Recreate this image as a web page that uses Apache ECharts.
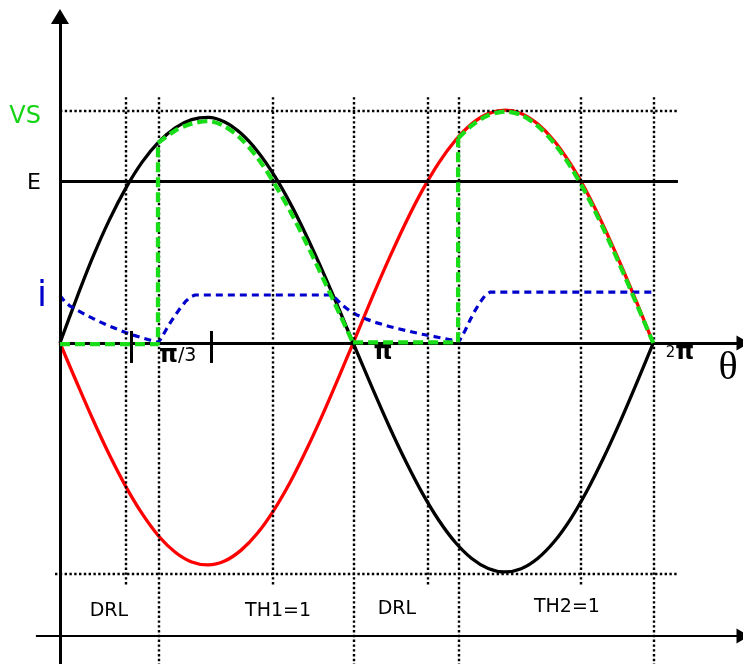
<!DOCTYPE html>
<html>
<head>
<meta charset="utf-8">
<script src="https://cdn.jsdelivr.net/npm/echarts@6/dist/echarts.min.js"></script>
<style>
  html, body { margin: 0; padding: 0; background: #fff; }
  #chart { width: 743px; height: 664px; }
</style>
</head>
<body>
<div id="chart"></div>
<script>
// Single-phase controlled rectifier charging a battery E.
// θ is in degrees, voltages and current in percent of the peak VS.

const vsLevel = 100;
const eLevel = 69.8;
const lowerLevel = -99.6;

// supply voltage v (black) and its opposite -v (red)
const supplyV = [
  [0, 0], [10, 19.1], [20, 37.1], [30, 53.1], [40, 66.8], [50, 78.1], [60, 86.7], [70, 92.8],
  [80, 96.3], [90, 97.3], [100, 95.3], [110, 90.3], [120, 82.6], [130, 72.4], [140, 60.0],
  [150, 45.7], [160, 30.1], [170, 13.6], [178, 0],
  [190, -20.0], [200, -36.1], [210, -51.1], [220, -64.7], [230, -76.4], [240, -85.9],
  [250, -92.9], [260, -97.2], [270, -98.7], [280, -97.3], [290, -92.9], [300, -85.7],
  [310, -75.9], [320, -63.7], [330, -49.6], [340, -34.1], [350, -17.5], [360.2, 0]
];
const supplyNegV = [
  [0, 0], [10, -16.7], [20, -33.0], [30, -48.2], [40, -61.9], [50, -73.7], [60, -83.3],
  [70, -90.2], [80, -94.4], [90, -95.7], [100, -94.0], [110, -89.3], [120, -81.9],
  [130, -71.9], [140, -59.7], [150, -45.5], [160, -30.0], [170, -13.5], [178, 0],
  [190, 20.4], [200, 36.7], [210, 52.0], [220, 65.8], [230, 77.7], [240, 87.3], [250, 94.5],
  [260, 98.9], [270.3, 100.4], [280, 99.0], [290, 94.5], [300, 87.2], [310, 77.2],
  [320, 64.9], [330, 50.5], [340, 34.6], [350, 17.8], [360.2, 0]
];

// output voltage (green): off while the diodes conduct, then following the supply
const outputOff1 = [[0, -0.5], [59.5, -0.5], [59.5, 86.2]];
const outputHump1 = [
  [59.5, 86.2], [70, 91.6], [80, 94.6], [90, 95.7], [100, 93.4], [110, 88.0], [120, 79.8],
  [130, 69.0], [140, 56.5], [150, 42.5], [160, 27.5], [170, 12.2], [178, 0]
];
const outputOff2 = [[178, 0.3], [241.7, 0.3], [241.7, 88.2]];
const outputHump2 = [
  [241.7, 88.2], [250, 93.8], [260, 98.2], [270.3, 99.8], [280, 98.3], [290, 93.6], [300, 86.2],
  [310, 76.0], [320, 63.6], [330, 49.2], [340, 33.5], [350, 17.0], [360.2, 0]
];

// load current i (blue)
const loadCurrent = [
  [0, 20.5], [3, 17.8], [6, 16.0], [10, 14.4], [15, 12.4], [20, 10.6], [25, 8.9], [30, 7.3],
  [35, 5.9], [40, 4.5], [45, 3.3], [50, 2.2], [55, 1.2], [59.5, 0.3],
  [61, 1.5], [64, 5.2], [67, 8.8], [70, 12.0], [73, 15.0], [76, 17.7], [79, 19.8], [82, 20.7],
  [165, 20.7], [168, 18.8], [172, 16.0], [176, 13.8], [180, 12.2], [186, 10.3], [192, 8.8],
  [200, 7.1], [210, 5.4], [220, 3.8], [230, 2.4], [238.6, 1.2], [241.7, 0.2],
  [243, 1.5], [246, 5.4], [249, 9.9], [252, 14.0], [255, 17.5], [258, 20.4], [261, 21.9],
  [360.2, 21.9]
];

// angle guides
const fullGuides = [60.1, 178.5, 242.2, 360.6];
const shortGuides = [40.1, 129.3, 223.4, 316.3];
const tickMarks = [43.1, 91.7];

const intervalNames = ['DRL', 'TH1=1', 'DRL', 'TH2=1'];
const angleNames = ['π/3', 'π', '2π'];

const X_MIN = -36.4, X_MAX = 414.7;
const Y_MIN = -138.4, Y_MAX = 147.9;
const GUIDE_TOP = 106, SHORT_BOTTOM = -104.3, LINE_END = 375.2;
const LOWER_AXIS = -126.3;

const dotted = { color: '#000', width: 2.4, type: [2.4, 2.4] };
const solid3 = { color: '#000', width: 3, type: 'solid' };

function seg(a, b, style, endSymbol, endSize) {
  const end = { coord: b, lineStyle: style, symbol: endSymbol || 'none' };
  if (endSymbol) end.symbolSize = endSize;
  return [{ coord: a, lineStyle: style, symbol: 'none' }, end];
}

const guideLines = [];
fullGuides.forEach(x => guideLines.push(seg([x, GUIDE_TOP], [x, Y_MIN], dotted)));
shortGuides.forEach(x => guideLines.push(seg([x, GUIDE_TOP], [x, SHORT_BOTTOM], dotted)));
guideLines.push(seg([0, vsLevel], [LINE_END, vsLevel], dotted));
guideLines.push(seg([-3, lowerLevel], [LINE_END, lowerLevel], dotted));
tickMarks.forEach(x => guideLines.push(seg([x, 5.2], [x, -8.6], solid3)));

const axisLines = [
  seg([0, Y_MIN], [0, 140.8], solid3, 'triangle', [18, 15]),
  seg([0, 0], [X_MAX, 0], solid3, 'triangle', [15, 13]),
  seg([-14.6, LOWER_AXIS], [X_MAX, LOWER_AXIS], { color: '#000', width: 2.2, type: 'solid' }, 'triangle', [15, 13]),
  seg([0, eLevel], [LINE_END, eLevel], { color: '#000', width: 3.2, type: 'solid' })
];

const sans = 'DejaVu Sans';
function textAt(pos, text, style) {
  return {
    value: pos,
    label: Object.assign({
      show: true, position: 'inside', formatter: text, fontFamily: sans,
      color: '#000', fontSize: 19, textBorderWidth: 0, opacity: 1
    }, style)
  };
}

const piBold = { fontFamily: sans, fontWeight: 'bold', fontSize: 24, color: '#000' };

const texts = [
  textAt([-21.2, 97.4], 'VS', { color: '#14d414', fontSize: 24 }),
  textAt([-15.8, 69], 'E', { fontSize: 22 }),
  textAt([-10.9, 19.8], 'i', { color: '#0000cc', fontSize: 36 }),
  textAt([71.5, -5.6], '', {
    rich: { b: piBold, n: { fontFamily: sans, fontSize: 19, color: '#000' } },
    formatter: '{b|' + angleNames[0].charAt(0) + '}{n|' + angleNames[0].slice(1) + '}'
  }),
  textAt([196.1, -4.3], '', { rich: { b: piBold }, formatter: '{b|' + angleNames[1] + '}' }),
  textAt([376.4, -4.3], '', {
    rich: { b: piBold, n: { fontFamily: sans, fontSize: 15, color: '#000' } },
    formatter: '{n|' + angleNames[2].charAt(0) + '}{b|' + angleNames[2].slice(1) + '}'
  }),
  textAt([405.6, -11.2], 'θ', { fontFamily: 'Liberation Serif', fontSize: 40, color: '#000' }),
  textAt([29.7, -115.6], intervalNames[0], {}),
  textAt([132.4, -115.6], intervalNames[1], {}),
  textAt([204.6, -114.7], intervalNames[2], {}),
  textAt([307.8, -113.8], intervalNames[3], {})
];

function curve(data, color, width, type, smooth, z) {
  return {
    type: 'line', data, smooth, showSymbol: false, symbol: 'none',
    clip: false, z, lineStyle: { color, width, type }, silent: true, animation: false
  };
}

const green = '#18dd18';
const greenDash = [10, 5];

const chart = echarts.init(document.getElementById('chart'), null, { renderer: 'canvas' });
chart.setOption({
  backgroundColor: '#fff',
  animation: false,
  grid: { left: 0, right: 0, top: 0, bottom: 0 },
  xAxis: { type: 'value', min: X_MIN, max: X_MAX, show: false },
  yAxis: { type: 'value', min: Y_MIN, max: Y_MAX, show: false },
  series: [
    {
      type: 'line', data: [], clip: false, silent: true, z: 1,
      markLine: { silent: true, animation: false, symbol: 'none', label: { show: false }, data: guideLines }
    },
    {
      type: 'line', data: [], clip: false, silent: true, z: 2,
      markLine: { silent: true, animation: false, label: { show: false }, data: axisLines }
    },
    curve(supplyNegV, '#ff0000', 3.3, 'solid', 0.3, 3),
    curve(supplyV, '#000000', 3.3, 'solid', 0.3, 3),
    curve(loadCurrent, '#0000cc', 3.2, [7, 5], false, 4),
    curve(outputOff1, green, 4.2, greenDash, false, 5),
    curve(outputHump1, green, 4.2, greenDash, 0.3, 5),
    curve(outputOff2, green, 4.2, greenDash, false, 5),
    curve(outputHump2, green, 4.2, greenDash, 0.3, 5),
    {
      type: 'scatter', data: texts, symbolSize: 0, clip: false, silent: true, z: 6,
      itemStyle: { opacity: 1 }
    }
  ]
});
</script>
</body>
</html>
